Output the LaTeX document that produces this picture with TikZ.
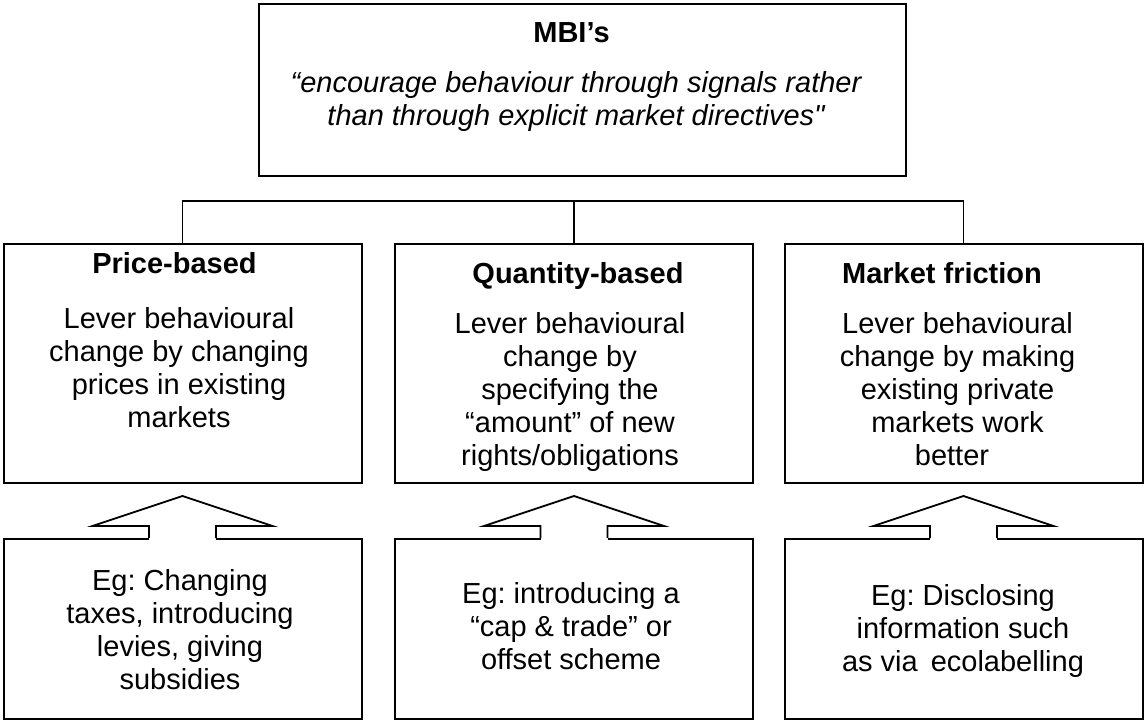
\documentclass[tikz,border=0pt]{standalone}
\usepackage{fontspec}
\setmainfont{Liberation Sans}[Ligatures=TeXOff]
\usetikzlibrary{calc}
\frenchspacing

\begin{document}
\begin{tikzpicture}[x=0.5pt,y=-0.5pt]
  % Definimos los estilos para las cajas, las líneas y las flechas
  \tikzstyle{mainbox} = [draw, line width=1pt, minimum width=323.5pt, minimum height=86pt, inner sep=0pt];
  \tikzstyle{typebox} = [draw, line width=1pt, minimum width=179pt, minimum height=119.5pt, inner sep=0pt];
  \tikzstyle{egbox} = [draw, line width=1pt, minimum width=179pt, minimum height=90pt, inner sep=0pt];
  \tikzstyle{boxtext} = [anchor=north, align=center, inner sep=0pt, font=\fontsize{14.5}{16.5}\selectfont];
  \tikzstyle{boxhead} = [boxtext, font=\fontsize{14.5}{16.5}\selectfont\bfseries];
  \tikzstyle{linkline} = [draw, line width=0.7pt];
  \tikzstyle{blockarrow} = [draw, line width=0.9pt, line join=miter];

  \useasboundingbox (0,0) rectangle (1144,720);

  % Caja superior (MBI's)
  \node [mainbox] (mbi) at (582.5,90) {};
  \node [boxhead] (mbititle) at (571.5,22) {MBI’s};
  \node [boxtext, font=\fontsize{14.5}{16.5}\selectfont\itshape] (mbiquote) at (576,71)
    {“encourage behaviour through signals rather\\than through explicit market directives"};

  % Las tres cajas de tipos
  \node [typebox] (price) at (182.5,363.5) {};
  \node [typebox] (quantity) at (574,363.5) {};
  \node [typebox] (friction) at (963.5,363.5) {};

  \node [boxhead] (pricehead) at (174.5,252) {Price-based};
  \node [boxtext] (pricebody) at (179,307)
    {Lever behavioural\\change by changing\\prices in existing\\markets};
  \node [boxhead] (quantityhead) at (578,262) {Quantity-based};
  \node [boxtext] (quantitybody) at (570,312)
    {Lever behavioural\\change by\\specifying the\\“amount” of new\\rights/obligations};
  \node [boxhead] (frictionhead) at (942,262) {Market friction};
  \node [boxtext] (frictionbody) at (957.5,312)
    {Lever behavioural\\change by making\\existing private\hspace*{15pt}\\markets work\hspace*{4.5pt}\\better\hspace*{5.5pt}};

  % Líneas que unen las cajas de tipos
  \coordinate (bar) at (574,201);
  \draw [linkline] (price.north) |- (bar) -| (friction.north);
  \draw [linkline] (quantity.north) -- (bar);

  % Cajas de ejemplos
  \node [egbox] (priceeg) at (182.5,629) {};
  \node [egbox] (quantityeg) at (574,629) {};
  \node [egbox] (frictioneg) at (963.5,629) {};

  \node [boxtext] (priceegtext) at (180,569)
    {Eg: Changing\\taxes, introducing\\levies, giving\\subsidies};
  \node [boxtext] (quantityegtext) at (571,582)
    {Eg: introducing a\\“cap \& trade” or\\offset scheme};
  \node [boxtext] (frictionegtext) at (963,584)
    {Eg: Disclosing\\information such\\as via\hspace{0.45em}ecolabelling};

  % Flechas huecas desde los ejemplos hacia los tipos
  \foreach \n in {price,quantity,friction} {
    \fill [white] ($(\n eg.north)+(-33.5,-3)$) rectangle ($(\n eg.north)+(33.5,3)$);
    \draw [blockarrow] ($(\n eg.north)+(-33.5,0)$) -- ++(0,-12) -- ++(-56.5,0)
      -- ($(\n eg.north)+(0,-42)$) -- ($(\n eg.north)+(90,-12)$) -- ++(-56.5,0) -- ++(0,12);
  }
\end{tikzpicture}
\end{document}
